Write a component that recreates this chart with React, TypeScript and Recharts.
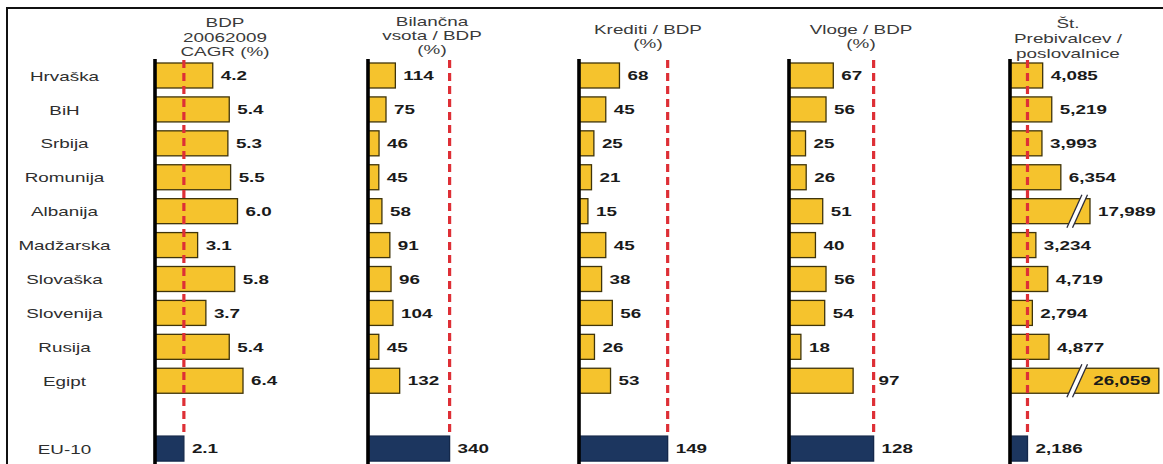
import { BarChart, Bar, XAxis, YAxis, ReferenceLine } from 'recharts'

// '' is the empty spacer row between the countries and EU-10
const countries = ['Hrvaška', 'BiH', 'Srbija', 'Romunija', 'Albanija', 'Madžarska', 'Slovaška', 'Slovenija', 'Rusija', 'Egipt', '', 'EU-10']

const bdpCagr = [4.2, 5.4, 5.3, 5.5, 6.0, 3.1, 5.8, 3.7, 5.4, 6.4, null, 2.1]
const bilancnaVsota = [114, 75, 46, 45, 58, 91, 96, 104, 45, 132, null, 340]
const krediti = [68, 45, 25, 21, 15, 45, 38, 56, 26, 53, null, 149]
const vloge = [67, 56, 25, 26, 51, 40, 56, 54, 18, 97, null, 128]
const prebivalci = [4085, 5219, 3993, 6354, 17989, 3234, 4719, 2794, 4877, 26059, null, 2186]

// bars too long for the scale are drawn cut short, with a break mark
const brokenBarLength: Record<string, number> = { Albanija: 10000, Egipt: 18600 }
const breakAt = 8400

const FONT = '"Liberation Sans", Arial, Helvetica, sans-serif'
const STRETCH = 1.45
const YELLOW = '#f5c32d'
const YELLOW_EDGE = '#3f340a'
const NAVY = '#1c365f'
const RED = '#de2f36'

const TOP = 59
const BOTTOM = 14
const HEIGHT = 480

type Panel = {
  title: string[]
  values: (number | null)[]
  axisX: number
  max: number
  plotWidth: number
  titleX: number
  titleTop: number
  titleLine: number
  fmt: (v: number) => string
  breaks?: boolean
}

const panels: Panel[] = [
  { title: ['BDP', '20062009', 'CAGR (%)'], values: bdpCagr, axisX: 155, max: 8, plotWidth: 110, titleX: 225, titleTop: 16, titleLine: 14.5, fmt: (v) => v.toFixed(1) },
  { title: ['Bilančna', 'vsota / BDP', '(%)'], values: bilancnaVsota, axisX: 367.5, max: 400, plotWidth: 96, titleX: 432, titleTop: 14.5, titleLine: 14, fmt: (v) => String(v) },
  { title: ['Krediti / BDP', '(%)'], values: krediti, axisX: 579, max: 200, plotWidth: 119, titleX: 648, titleTop: 22.5, titleLine: 14, fmt: (v) => String(v) },
  { title: ['Vloge / BDP', '(%)'], values: vloge, axisX: 789, max: 180, plotWidth: 119, titleX: 861, titleTop: 22.5, titleLine: 14, fmt: (v) => String(v) },
  { title: ['Št.', 'Prebivalcev /', 'poslovalnice'], values: prebivalci, axisX: 1009.5, max: 19000, plotWidth: 152, titleX: 1068, titleTop: 15.5, titleLine: 15, fmt: (v) => v.toLocaleString('en-US'), breaks: true },
]

// rough width of a bold 13px number label after stretching
function labelWidth(s: string) {
  let w = 0
  for (const c of s) w += c === ',' || c === '.' ? 3.6 : 7.2
  return w * STRETCH
}

function BarMark(props: any) {
  const { x, y, width, height, payload, panel } = props
  const value = payload.value
  if (value == null || !value) return null
  const ppu = width / value
  const isEU = payload.name === 'EU-10'
  const cut = panel.breaks ? brokenBarLength[payload.name] : undefined
  const w = cut ? cut * ppu : width
  const text = panel.fmt(value)
  const lw = labelWidth(text)
  const cy = y + height / 2
  const refPx = x + (panel.values[panel.values.length - 1] as number) * ppu

  let lx = x + w + 8
  let anchor = 'start'
  if (cut && lx + lw > x + panel.plotWidth) {
    // no room right of a cut bar: label sits inside its end
    lx = x + w - 8
    anchor = 'end'
  } else if (!isEU && lx < refPx + 3 && lx + lw > refPx - 3) {
    // keep the label clear of the dashed line
    lx = refPx + 5
  }

  let brk = null
  if (cut) {
    const bx = x + breakAt * ppu
    const yt = y - 4
    const yb = y + height + 4
    const lean = 7.5
    const gap = 2.8
    brk = (
      <g>
        <polygon
          points={`${bx - lean - gap},${yb} ${bx + lean - gap},${yt} ${bx + lean + gap},${yt} ${bx - lean + gap},${yb}`}
          fill="#fff"
        />
        <line x1={bx - lean - gap} y1={yb} x2={bx + lean - gap} y2={yt} stroke="#2b2b3a" strokeWidth={1.3} />
        <line x1={bx - lean + gap} y1={yb} x2={bx + lean + gap} y2={yt} stroke="#2b2b3a" strokeWidth={1.3} />
      </g>
    )
  }

  return (
    <g>
      <rect
        x={x}
        y={y}
        width={w}
        height={height}
        fill={isEU ? NAVY : YELLOW}
        stroke={isEU ? '#14284a' : YELLOW_EDGE}
        strokeWidth={1.3}
      />
      {brk}
      <text
        transform={`translate(${lx}, ${cy}) scale(${STRETCH}, 1)`}
        textAnchor={anchor}
        dy="0.36em"
        fontFamily={FONT}
        fontSize={13}
        fontWeight="bold"
        fill="#1a1a1a"
      >
        {text}
      </text>
    </g>
  )
}

// dashed EU-10 line stops above the EU-10 row
function CutLine(props: any) {
  const { x1, y1, x2, y2 } = props
  const top = Math.min(y1, y2)
  const bottom = Math.max(y1, y2)
  const band = (bottom - top) / countries.length
  return (
    <line x1={x1} y1={top + 1} x2={x2} y2={bottom - band} stroke={RED} strokeWidth={3.2} strokeDasharray="8 5" />
  )
}

function CountryTick(props: any) {
  const { y, payload } = props
  return (
    <text
      transform={`translate(64.5, ${y}) scale(${STRETCH}, 1)`}
      textAnchor="middle"
      dy="0.36em"
      fontFamily={FONT}
      fontSize={13}
      fill="#2e2e2e"
    >
      {payload.value}
    </text>
  )
}

function PanelChart({ panel, first }: { panel: Panel; first: boolean }) {
  const rows = countries.map((name, i) => ({ name, value: panel.values[i] }))
  const padLeft = first ? 0 : 10
  const yAxisW = first ? panel.axisX : 0
  const padRight = 60
  const width = padLeft + yAxisW + panel.plotWidth + padRight
  const left = first ? 0 : panel.axisX - padLeft
  const ref = panel.values[panel.values.length - 1] as number
  const margin = { top: TOP, bottom: BOTTOM, left: padLeft, right: padRight }

  const yAxis = first ? (
    <YAxis
      type="category"
      dataKey="name"
      width={yAxisW}
      axisLine={false}
      tickLine={false}
      interval={0}
      tick={<CountryTick />}
    />
  ) : (
    <YAxis type="category" dataKey="name" hide />
  )

  return (
    <div style={{ position: 'absolute', left, top: 0, width, height: HEIGHT }}>
      <BarChart width={width} height={HEIGHT} data={rows} layout="vertical" margin={margin} barSize={25}>
        <XAxis type="number" domain={[0, panel.max]} allowDataOverflow={!!panel.breaks} hide />
        {yAxis}
        <Bar
          dataKey="value"
          isAnimationActive={false}
          shape={(p: any) => <BarMark {...p} panel={panel} />}
        />
      </BarChart>
      {/* axis line and dashed EU-10 line, laid over the bars */}
      <div style={{ position: 'absolute', left: 0, top: 0 }}>
        <BarChart width={width} height={HEIGHT} data={rows} layout="vertical" margin={margin}>
          <XAxis type="number" domain={[0, panel.max]} allowDataOverflow hide />
          <YAxis type="category" dataKey="name" hide={!first} width={yAxisW} tick={false} axisLine={false} tickLine={false} />
          <ReferenceLine x={ref} shape={(p: any) => <CutLine {...p} />} />
          <ReferenceLine x={0} stroke="#000" strokeWidth={3.6} />
        </BarChart>
      </div>
    </div>
  )
}

export default function App() {
  return (
    <div
      style={{
        position: 'absolute',
        left: 0,
        top: 0,
        width: 1163,
        height: 464,
        overflow: 'hidden',
        background: '#fff',
        fontFamily: FONT,
      }}
    >
      <div
        style={{
          position: 'absolute',
          left: 6,
          top: 7,
          width: 1170,
          height: 500,
          borderTop: '2px solid #111',
          borderLeft: '2px solid #111',
        }}
      />
      {panels.map((p) => (
        <div
          key={p.title.join(' ')}
          style={{
            position: 'absolute',
            left: p.titleX - 100,
            top: p.titleTop,
            width: 200,
            textAlign: 'center',
            fontSize: 13,
            lineHeight: `${p.titleLine}px`,
            color: '#3a3a3a',
            transform: `scaleX(${STRETCH})`,
          }}
        >
          {p.title.map((line) => (
            <div key={line}>{line}</div>
          ))}
        </div>
      ))}
      {panels.map((p, i) => (
        <PanelChart key={p.title.join(' ')} panel={p} first={i === 0} />
      ))}
    </div>
  )
}
